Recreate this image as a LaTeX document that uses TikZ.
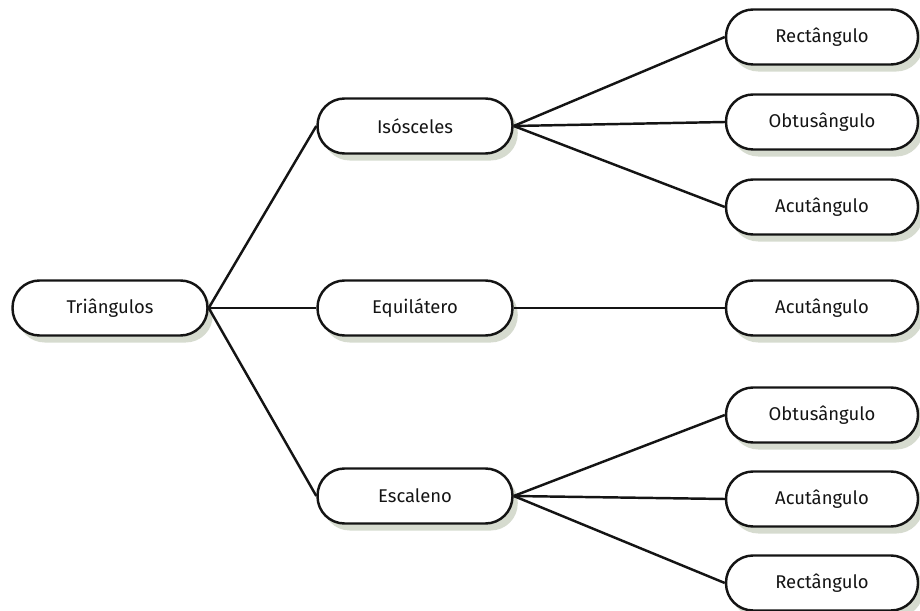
\documentclass[tikz,border=0pt]{standalone}
\usepackage{fontspec}
\usepackage{xcolor}
\usepackage{tikz}
\usetikzlibrary{positioning,shadows}
\newfontfamily\boxfont{Fira Sans}
\definecolor{ink1}{HTML}{141414}
\definecolor{shade}{HTML}{D6DBCF}

\begin{document}
\begin{tikzpicture}[
  x=0.02cm, y=-0.02cm,
  font=\boxfont\fontsize{10.5}{12}\selectfont,
  box/.style={draw=ink1, line width=1.4pt, fill=white, rounded corners=0.54cm,
              minimum width=3.9cm, minimum height=1.1cm, text=ink1,
              drop shadow={shadow xshift=3pt, shadow yshift=-4pt, fill=shade, opacity=1}},
  leaf/.style={box, minimum width=3.84cm},
  link/.style={draw=ink1, line width=1.4pt}
]
\useasboundingbox (0,0) rectangle (920,611);

% ===== root and middle level =====
\node[box] (tri)  at (110,308) {Triângulos};
\node[box] (iso)  at (415,126) {Isósceles};
\node[box] (equi) at (415,308) {Equilátero};
\node[box] (esca) at (415,496) {Escaleno};

% ===== leaves =====
\foreach \nm/\yy/\txt in {isoRect/37/Rectângulo, isoObt/122/Obtusângulo,
                          isoAcu/207/Acutângulo, equiAcu/308/Acutângulo,
                          escObt/415/Obtusângulo, escAcu/499/Acutângulo,
                          escRect/583/Rectângulo}
  \node[leaf] (\nm) at (822,\yy) {\txt};

% ===== connectors =====
\foreach \kid in {iso,equi,esca}
  \draw[link] (tri.east) -- (\kid.west);
\foreach \kid in {isoRect,isoObt,isoAcu}
  \draw[link] (iso.east) -- (\kid.west);
\draw[link] (equi.east) -- (equiAcu.west);
\foreach \kid in {escObt,escAcu,escRect}
  \draw[link] (esca.east) -- (\kid.west);
\end{tikzpicture}
\end{document}
